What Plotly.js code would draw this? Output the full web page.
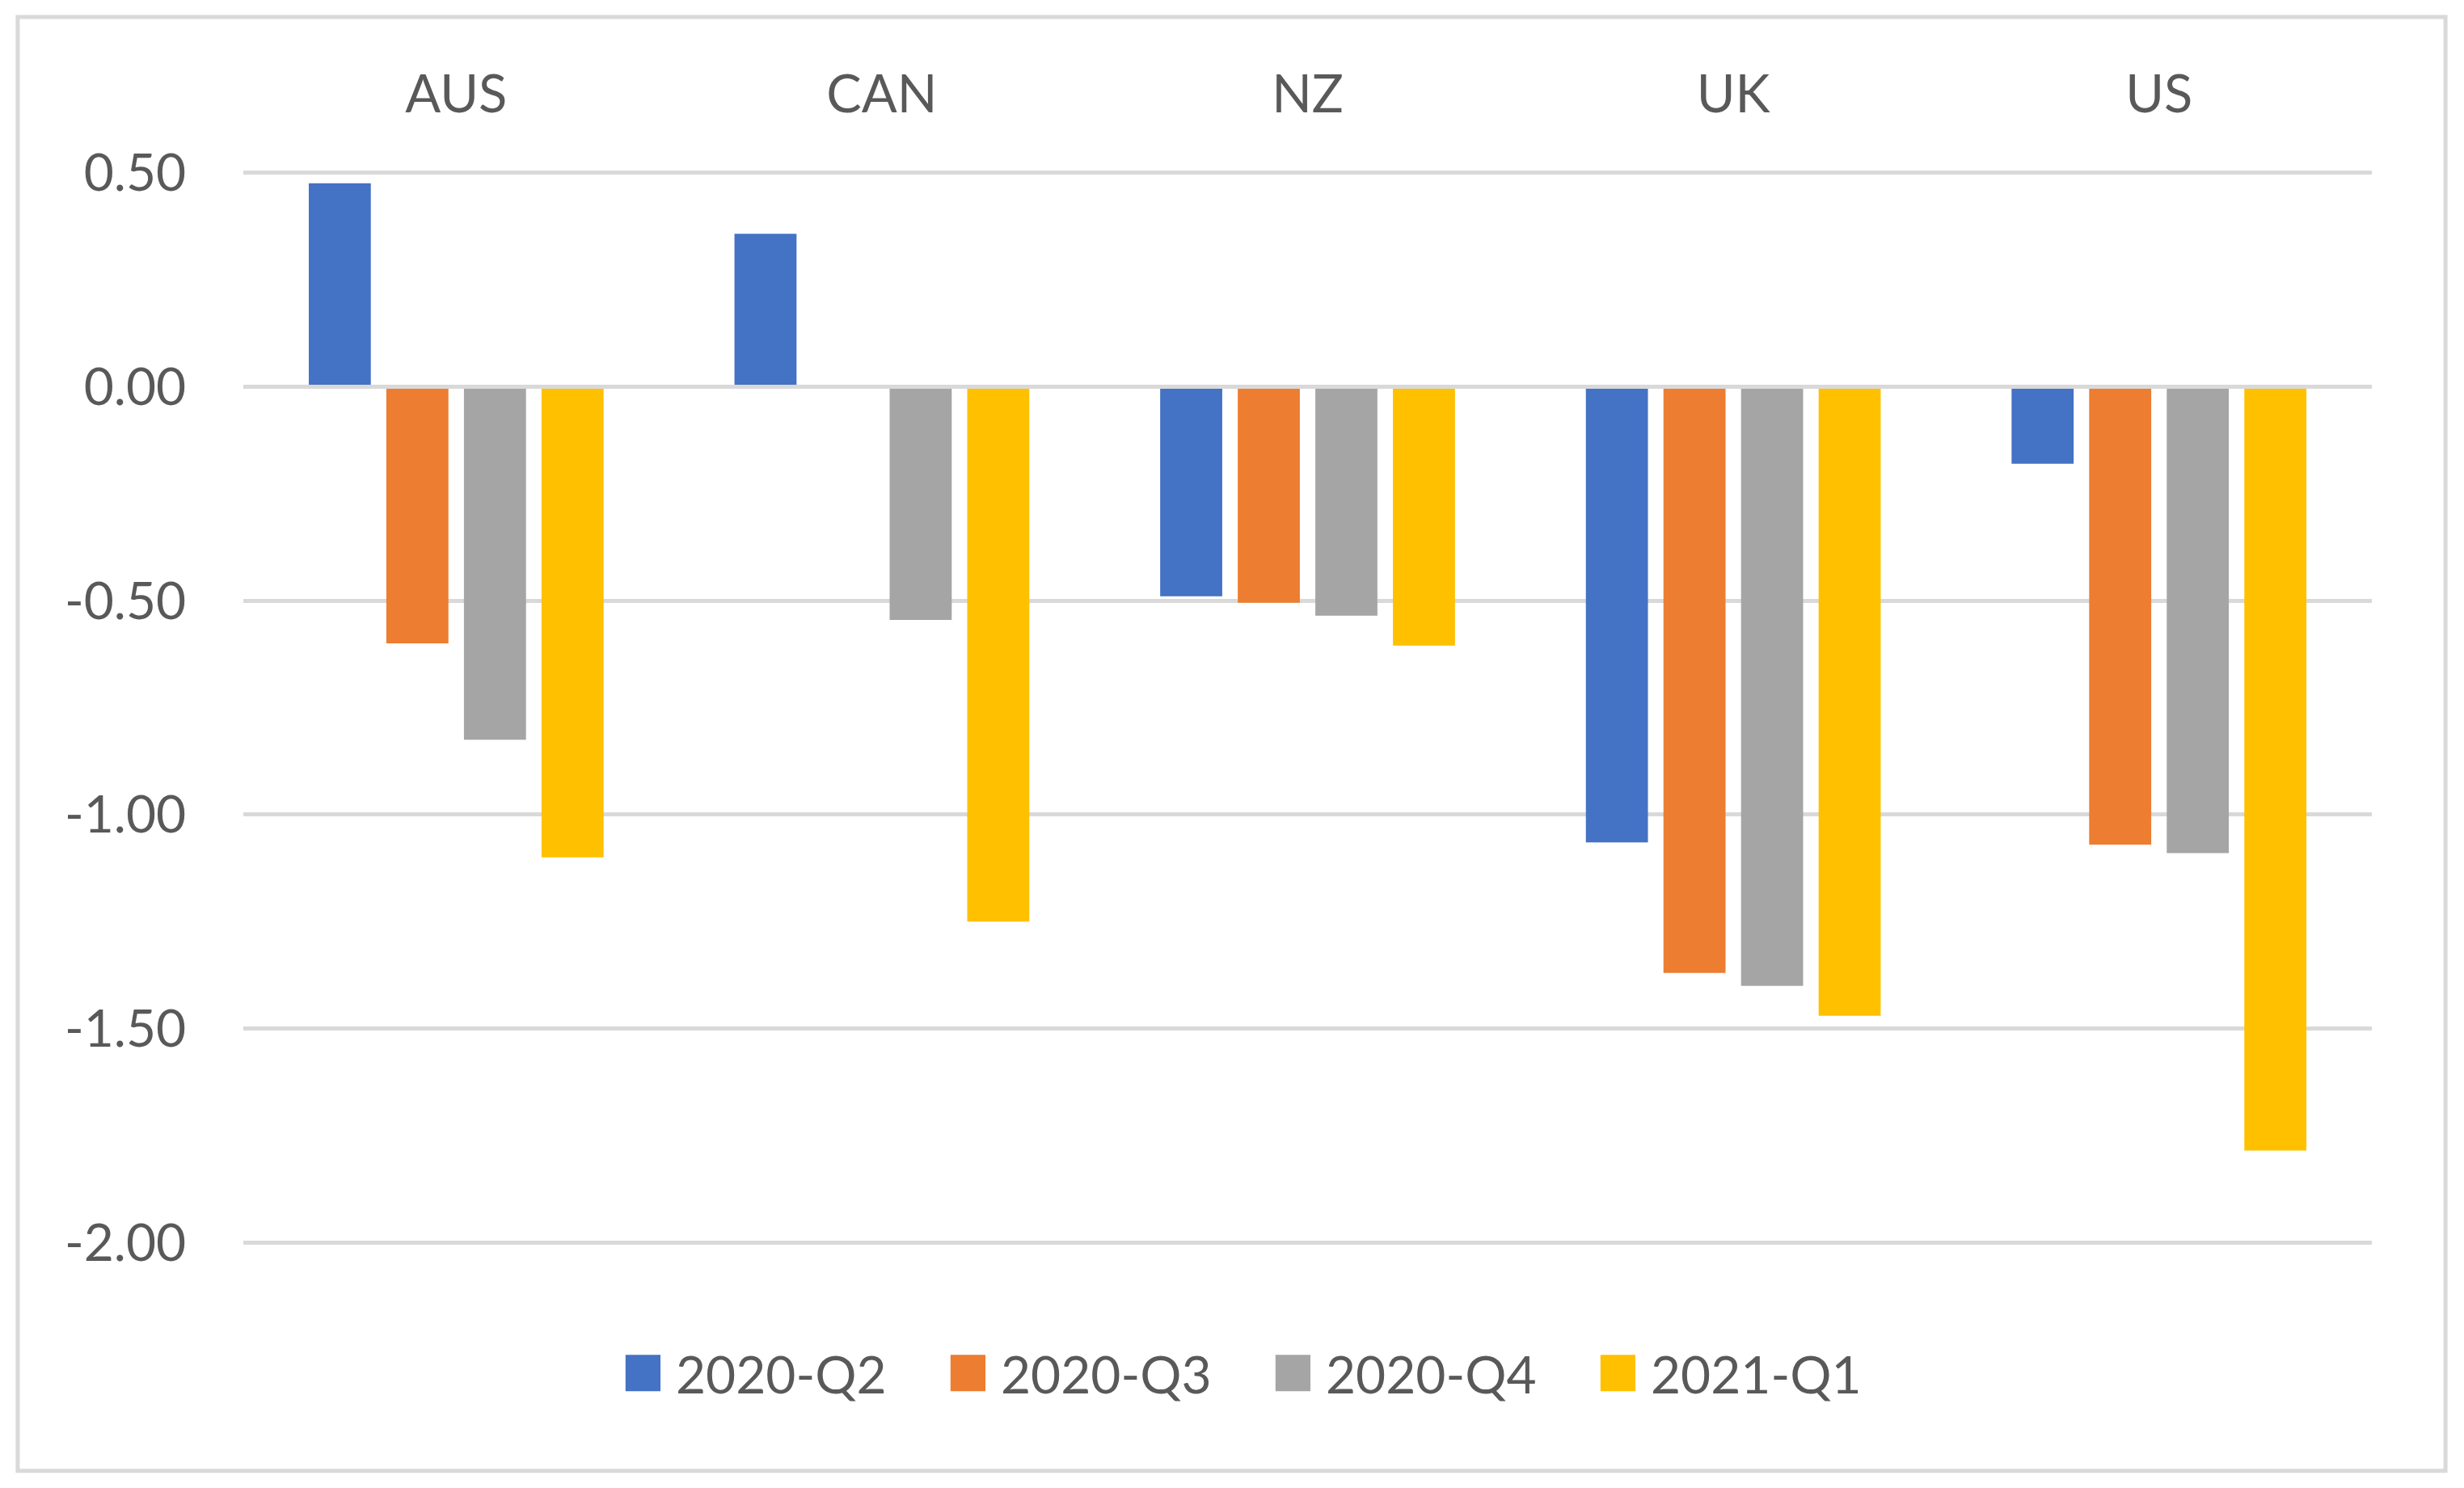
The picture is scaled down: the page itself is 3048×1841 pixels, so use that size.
<!DOCTYPE html>
<html><head><meta charset="utf-8">
<script src="https://cdn.plot.ly/plotly-3.0.1.min.js"></script>
<style>html,body{margin:0;padding:0;background:#fff;} #chart{width:3048px;height:1841px;}</style>
</head><body><div id="chart"></div>
<script>
const countries = ['AUS', 'CAN', 'NZ', 'UK', 'US'];
const seriesNames = ['2020-Q2', '2020-Q3', '2020-Q4', '2021-Q1'];
const q2_2020 = [0.475, 0.357, -0.49, -1.065, -0.18];
const q3_2020 = [-0.60, null, -0.505, -1.37, -1.07];
const q4_2020 = [-0.825, -0.545, -0.535, -1.40, -1.09];
const q1_2021 = [-1.10, -1.25, -0.605, -1.47, -1.785];
const seriesColors = ['#4472C4', '#ED7D31', '#A5A5A5', '#FFC000'];
const yTickVals = [0.5, 0, -0.5, -1, -1.5, -2];
const yTickText = ['0.50', '0.00', '-0.50', '-1.00', '-1.50', '-2.00'];

const seriesValues = [q2_2020, q3_2020, q4_2020, q1_2021];
const data = seriesValues.map((vals, i) => ({
  type: 'bar',
  name: seriesNames[i],
  x: countries,
  y: vals,
  marker: {color: seriesColors[i], line: {width: 0}},
  hoverinfo: 'x+y+name'
}));

const txt = '#595959';
const layout = {
  width: 3048, height: 1841,
  margin: {l: 301, r: 114, t: 212, b: 302, pad: 0},
  paper_bgcolor: '#ffffff',
  plot_bgcolor: 'rgba(0,0,0,0)',
  font: {family: 'Lato, sans-serif', size: 65, color: txt},
  barmode: 'group',
  bargap: 0.271,
  bargroupgap: 0.2,
  showlegend: true,
  xaxis: {
    type: 'category', side: 'top',
    showgrid: false, zeroline: false, showline: false,
    ticks: 'outside', ticklen: 46, tickcolor: 'rgba(0,0,0,0)',
    tickfont: {family: 'Lato, sans-serif', size: 65, color: txt},
    fixedrange: true
  },
  yaxis: {
    range: [-2.003, 0.503],
    tickmode: 'array', tickvals: yTickVals, ticktext: yTickText,
    showgrid: true, gridcolor: '#D9D9D9', gridwidth: 5,
    zeroline: true, zerolinecolor: '#D9D9D9', zerolinewidth: 5, zerolinelayer: 'above traces',
    showline: false,
    ticks: 'outside', ticklen: 57, tickcolor: 'rgba(0,0,0,0)',
    tickfont: {family: 'Lato, sans-serif', size: 64, color: txt},
    fixedrange: true
  },
  legend: {
    orientation: 'h', xref: 'paper', yref: 'paper',
    x: 0.4694, xanchor: 'center', y: -0.1207, yanchor: 'middle',
    font: {family: 'Lato, sans-serif', size: 64, color: txt},
    itemwidth: 60, tracegroupgap: 0, bgcolor: 'rgba(0,0,0,0)'
  },
  shapes: [{
    type: 'rect', xref: 'paper', yref: 'paper', layer: 'below',
    x0: -0.106, x1: 1.0346, y0: -0.2115, y1: 1.1439,
    line: {color: '#D9D9D9', width: 5}, fillcolor: 'rgba(0,0,0,0)'
  }]
};

// legend entry geometry (screen px)
const legendTextStart = 836, legendPitch = 402, legendSymGap = 19, legendSymHalf = 21.6;

Plotly.newPlot('chart', data, layout, {staticPlot: true, displayModeBar: false}).then(function (gd) {
  gd.querySelectorAll('.legend [clip-path]').forEach(function (e) { e.removeAttribute('clip-path'); });
  const groups = gd.querySelectorAll('.legend g.traces');
  groups.forEach(function (g, i) {
    const t = g.querySelector('text.legendtext');
    const p = g.querySelector('.legendpoints path');
    if (!t) return;
    // move entry so its text starts at the wanted x
    const tr = (g.getAttribute('transform') || '').match(/translate\(\s*([-\d.e]+)[ ,]+([-\d.e]+)/);
    const tb = t.getBBox();
    const tm = t.getScreenCTM();
    const curLeft = tm.a * tb.x + tm.e;
    const want = legendTextStart + legendPitch * i;
    if (tr) {
      const nx = parseFloat(tr[1]) + (want - curLeft);
      g.setAttribute('transform', 'translate(' + nx + ',' + tr[2] + ')');
    }
    if (p) {
      const tm2 = t.getScreenCTM();
      const left2 = tm2.a * tb.x + tm2.e;
      const pm = p.parentNode.getScreenCTM();
      const centerScreen = left2 - legendSymGap - legendSymHalf;
      const localX = (centerScreen - pm.e) / pm.a;
      p.setAttribute('transform', 'translate(' + localX + ',0) scale(3.6,3.75)');
    }
  });
});
</script></body></html>
